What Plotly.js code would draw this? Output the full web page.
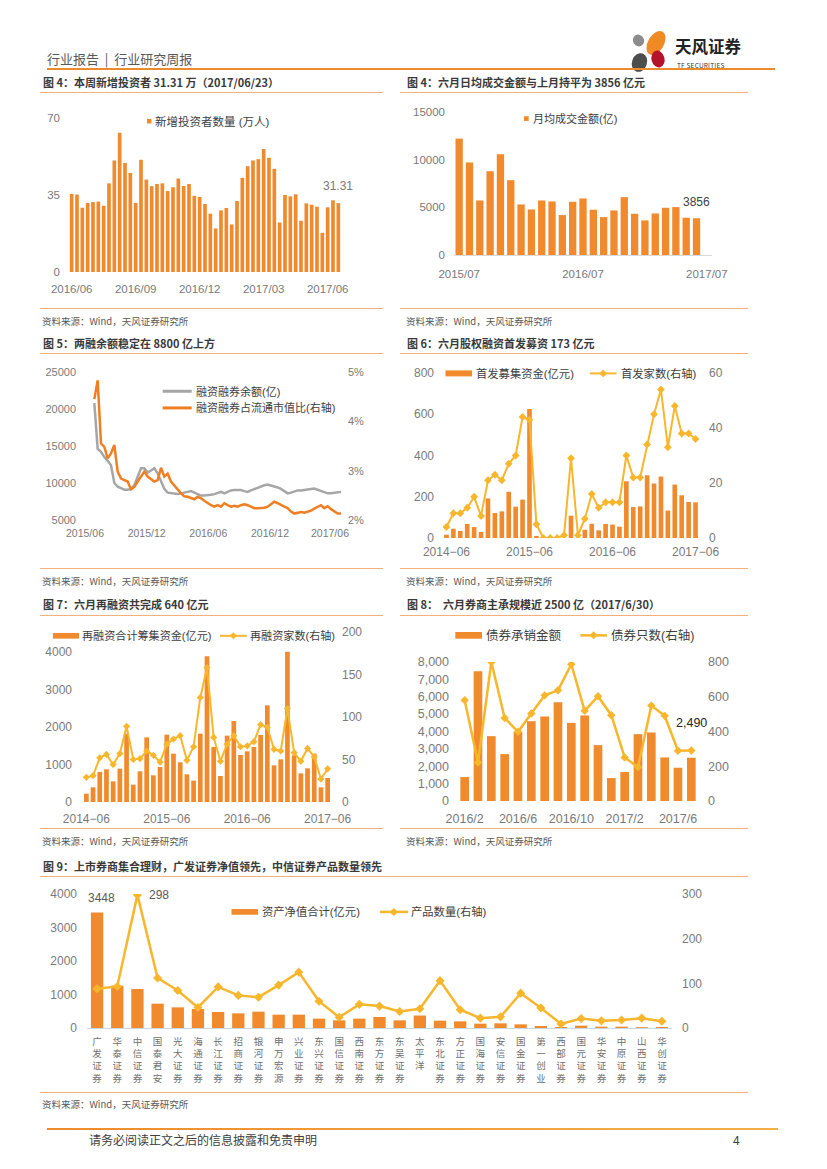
<!DOCTYPE html>
<html><head><meta charset="utf-8">
<script src="https://cdn.plot.ly/plotly-3.0.1.min.js"></script>
<style>
html,body{margin:0;padding:0;background:#fff;}
#page{position:relative;width:827px;height:1169px;overflow:hidden;font-family:"Noto Sans CJK SC","Liberation Sans",sans-serif;background:#fff;}
.t{position:absolute;white-space:nowrap;line-height:1;}
.ttl{font-size:11px;font-weight:bold;color:#3a3a3a;}
.src{font-size:9.5px;color:#595959;}
.hl{position:absolute;height:1px;background:#F3B07C;}
.ch{position:absolute;}
</style></head><body><div id="page">
<div class="t" style="left:47px;top:52px;font-size:13px;color:#595959;">行业报告&nbsp;&nbsp;|&nbsp;&nbsp;行业研究周报</div>
<svg style="position:absolute;left:625px;top:26px;" width="50" height="50" viewBox="625 26 50 50">
<ellipse cx="638.5" cy="40.5" rx="5.5" ry="6" fill="#8c8c8c" transform="rotate(-30 638.5 40.5)"/>
<ellipse cx="656" cy="43" rx="8" ry="13" fill="#F08A24" transform="rotate(30 656 43)"/>
<ellipse cx="639.5" cy="62.5" rx="7.5" ry="9.5" fill="#4d4d4d" transform="rotate(20 639.5 62.5)"/>
<ellipse cx="658" cy="59" rx="6.5" ry="8.5" fill="#B5122B" transform="rotate(-15 658 59)"/>
</svg>
<div class="t" style="left:675px;top:38px;font-size:16.5px;font-weight:bold;color:#222;">天风证券</div>
<div class="t" style="left:677px;top:61.5px;font-size:6.5px;color:#333;letter-spacing:0.2px;">TF SECURITIES</div>
<div style="position:absolute;left:47px;top:68px;width:728px;height:2px;background:#EC8A2E;"></div>

<div class="t ttl" style="left:43px;top:76.5px;">图 4：本周新增投资者 31.31 万（2017/06/23）</div>
<div class="t ttl" style="left:407px;top:76.5px;">图 4：六月日均成交金额与上月持平为 3856 亿元</div>
<div class="hl" style="left:40px;top:92px;width:343px;"></div>
<div class="hl" style="left:400px;top:92px;width:348px;"></div>
<div class="hl" style="left:40px;top:308px;width:343px;"></div>
<div class="hl" style="left:400px;top:308px;width:348px;"></div>
<div class="t src" style="left:42px;top:317px;">资料来源：Wind，天风证券研究所</div>
<div class="t src" style="left:406px;top:317px;">资料来源：Wind，天风证券研究所</div>

<div class="t ttl" style="left:43px;top:337.5px;">图 5：两融余额稳定在 8800 亿上方</div>
<div class="t ttl" style="left:407px;top:337.5px;">图 6：六月股权融资首发募资 173 亿元</div>
<div class="hl" style="left:40px;top:353px;width:343px;"></div>
<div class="hl" style="left:400px;top:353px;width:348px;"></div>
<div class="hl" style="left:40px;top:568px;width:343px;"></div>
<div class="hl" style="left:400px;top:568px;width:348px;"></div>
<div class="t src" style="left:42px;top:577px;">资料来源：Wind，天风证券研究所</div>
<div class="t src" style="left:406px;top:577px;">资料来源：Wind，天风证券研究所</div>

<div class="t ttl" style="left:43px;top:598.5px;">图 7：六月再融资共完成 640 亿元</div>
<div class="t ttl" style="left:407px;top:598.5px;">图 8：&nbsp;&nbsp;六月券商主承规模近 2500 亿（2017/6/30）</div>
<div class="hl" style="left:40px;top:615px;width:343px;"></div>
<div class="hl" style="left:400px;top:615px;width:348px;"></div>
<div class="hl" style="left:40px;top:828px;width:343px;"></div>
<div class="hl" style="left:400px;top:828px;width:348px;"></div>
<div class="t src" style="left:42px;top:837px;">资料来源：Wind，天风证券研究所</div>
<div class="t src" style="left:406px;top:837px;">资料来源：Wind，天风证券研究所</div>

<div class="t ttl" style="left:43px;top:861px;">图 9：上市券商集合理财，广发证券净值领先，中信证券产品数量领先</div>
<div class="hl" style="left:40px;top:876px;width:708px;"></div>
<div class="hl" style="left:40px;top:1092px;width:708px;"></div>
<div class="t src" style="left:42px;top:1100px;">资料来源：Wind，天风证券研究所</div>

<div style="position:absolute;left:47px;top:1127.5px;width:731px;height:2px;background:linear-gradient(90deg,#EE8B2A,#F3B04A);"></div>
<div class="t" style="left:89px;top:1134px;font-size:12px;color:#404040;">请务必阅读正文之后的信息披露和免责申明</div>
<div class="t" style="left:733px;top:1134px;font-size:12px;color:#404040;">4</div>
</div>
<script>
// ---------------- DATA ----------------
// Fig 4a: weekly new investors (10k persons)
const newInvestors = [35.5,35.2,29.2,31.4,31.8,32.0,30.1,40.3,50.7,63.3,49.6,45.0,31.4,51.0,42.0,39.0,40.0,40.3,36.8,38.5,42.5,39.1,40.0,34.6,34.1,30.9,26.5,19.8,28.0,29.1,21.6,32.3,42.8,48.1,50.7,51.3,55.9,51.9,46.9,22.5,35.0,34.4,35.3,23.3,31.2,30.6,29.7,17.8,29.4,32.6,31.31];
const investorTickText = ['2016/06','2016/09','2016/12','2017/03','2017/06'];
const investorTickIdx = [0,12,24,36,48];

// Fig 4b: monthly average daily turnover (100m CNY)
const turnover = [12209,9697,5720,8790,10569,7848,5302,4779,5720,5616,4186,5581,5930,4744,3977,4674,6070,4325,3628,4360,4953,5023,3907,3856];
const turnoverTickText = ['2015/07','2016/07','2017/07'];

// Fig 5: margin balance (100m) and ratio to float cap (%)
const marginBalance = [20800,14600,14200,13500,13000,12400,10000,9500,9300,9100,9100,9200,9700,11000,12000,12000,11400,11700,12000,11300,10200,9200,8700,8600,8600,8500,8600,8700,8800,8900,8700,8500,8300,8300,8300,8400,8500,8700,8800,8600,8800,9000,9050,9100,9050,8900,8800,9000,9200,9300,9500,9700,9800,9700,9600,9400,9200,8900,8600,8700,8900,9000,9000,9100,9100,9200,9250,9100,8900,8700,8600,8600,8700,8700,8800];
const marginRatio = [4.45,4.83,3.55,3.48,3.25,3.35,3.52,2.98,2.84,2.81,2.78,2.62,2.67,2.78,2.88,2.98,2.88,2.82,2.78,2.81,3.06,2.88,2.94,2.78,2.69,2.62,2.54,2.48,2.47,2.44,2.42,2.47,2.44,2.39,2.34,2.30,2.27,2.30,2.27,2.34,2.30,2.27,2.29,2.27,2.30,2.32,2.30,2.27,2.24,2.24,2.24,2.25,2.27,2.32,2.37,2.34,2.30,2.27,2.24,2.17,2.13,2.15,2.16,2.15,2.17,2.19,2.23,2.27,2.30,2.24,2.28,2.22,2.17,2.13,2.13];
const marginTickText = ['2015/06','2015/12','2016/06','2016/12','2017/06'];
const marginTickIdx = [-2.8,15.7,34.2,52.7,70.7];

// Fig 6: IPO funds (100m) and IPO count
const ipoFunds = [16,45,34,68,53,29,192,121,129,224,152,186,625,10,0,0,0,0,108,2,40,69,37,68,65,55,275,150,153,304,264,298,133,259,207,175,173];
const ipoCount = [4,9,9,11,15,8,21,23,21,27,30,44,43,5,0,0,0,1,29,1,7,16,11,13,13,13,30,22,22,34,45,54,33,48,38,38,36];
const ipoTickText = ['2014-06','2015-06','2016-06','2017-06'];

// Fig 7: refinancing funds (100m) and count
const refiFunds = [222,391,800,871,551,889,1822,462,818,1724,711,933,1796,1289,1058,738,569,1822,3884,1467,693,1769,2160,1253,1351,1467,1787,2578,978,1138,4009,1244,764,898,1289,391,640];
const refiCount = [29,31,52,56,44,57,89,50,51,60,55,47,68,74,78,49,65,123,158,76,48,68,78,65,66,71,91,88,62,60,110,58,48,63,53,27,39];
const refiTickText = ['2014-06','2015-06','2016-06','2017-06'];

// Fig 8: bond underwriting amount (100m) and bond count
const bondAmount = [1378,7464,3732,2699,3981,4593,4862,5684,4498,4919,3215,1321,1665,3847,3943,2507,1914,2490];
const bondCount = [580,222,800,478,398,503,608,637,787,519,603,494,251,195,549,490,289,291];
const bondTickText = ['2016/2','2016/6','2016/10','2017/2','2017/6'];

// Fig 9: collective asset management of listed brokers
const brokers = ['广发证券','华泰证券','中信证券','国泰君安','光大证券','海通证券','长江证券','招商证券','银河证券','申万宏源','兴业证券','东兴证券','国信证券','西南证券','东方证券','东吴证券','太平洋','东北证券','方正证券','国海证券','安信证券','国金证券','第一创业','西部证券','国元证券','华安证券','中原证券','山西证券','华创证券'];
const brokerNav = [3448,1264,1164,726,617,567,478,438,488,398,398,279,229,279,328,229,373,219,199,129,139,109,60,30,70,40,40,25,30];
const brokerProducts = [88,93,298,112,84,46,92,73,69,96,125,60,24,53,49,37,43,106,41,22,25,78,45,9,21,16,18,22,15];

// ---------------- HELPERS ----------------
const FONT = '"Liberation Sans", Arial, "Noto Sans CJK SC", sans-serif';
const BAR = '#F08A2C', LINEY = '#F8B62D', GRAY = '#A6A6A6', ORANGE = '#F07F23';
const TICKC = '#7A7A7A', TXT = '#404040';
const page = document.getElementById('page');
const idx = n => Array.from({length: n}, (_, i) => i);
function monthRange(y, m, n, sep, pad) {
  const out = [];
  for (let k = 0; k < n; k++) {
    const mm = ((m - 1 + k) % 12) + 1, yy = y + Math.floor((m - 1 + k) / 12);
    out.push(yy + sep + (pad && mm < 10 ? '0' + mm : String(mm)));
  }
  return out;
}

function makeChart(id, box, plot, traces, o) {
  const el = document.createElement('div');
  el.id = id; el.className = 'ch';
  el.style.left = box[0] + 'px'; el.style.top = box[1] + 'px';
  el.style.width = box[2] + 'px'; el.style.height = box[3] + 'px';
  page.appendChild(el);
  const W = plot[2] - plot[0], H = plot[3] - plot[1];
  const px = X => (X - plot[0]) / W, py = Y => (plot[3] - Y) / H;
  const shapes = [], annotations = (o.annotations || []).slice();
  (o.legend || []).forEach(it => {
    if (it.kind === 'bar') {
      shapes.push({type: 'rect', xref: 'paper', yref: 'paper', x0: px(it.x1), x1: px(it.x2),
        y0: py(it.y + it.h / 2), y1: py(it.y - it.h / 2), fillcolor: it.color, line: {width: 0}, layer: 'above'});
    } else {
      shapes.push({type: 'line', xref: 'paper', yref: 'paper', x0: px(it.x1), x1: px(it.x2),
        y0: py(it.y), y1: py(it.y), line: {color: it.color, width: it.lw || 2.5}, layer: 'above'});
      if (it.dx) {
        const s = it.ds || 3.5, c = it.dx, y = it.y;
        shapes.push({type: 'path', xref: 'paper', yref: 'paper', fillcolor: it.color, line: {width: 0}, layer: 'above',
          path: `M${px(c)},${py(y - s)} L${px(c + s)},${py(y)} L${px(c)},${py(y + s)} L${px(c - s)},${py(y)} Z`});
      }
    }
    annotations.push({xref: 'paper', yref: 'paper', x: px(it.tx), y: py(it.y), xanchor: 'left', yanchor: 'middle',
      text: it.text, showarrow: false, borderpad: 0, font: {size: it.fs, color: TXT, family: FONT}});
  });
  const ax = (extra) => Object.assign({showgrid: false, zeroline: false, showline: false, ticks: '', fixedrange: true}, extra);
  const layout = {
    width: box[2], height: box[3],
    margin: {l: plot[0] - box[0], t: plot[1] - box[1], r: box[0] + box[2] - plot[2], b: box[1] + box[3] - plot[3], pad: 0},
    paper_bgcolor: 'rgba(0,0,0,0)', plot_bgcolor: 'rgba(0,0,0,0)',
    showlegend: false, bargap: o.bargap,
    font: {family: FONT, color: TICKC, size: 11},
    xaxis: ax(o.xaxis), yaxis: ax(Object.assign({tickformat: 'd'}, o.yaxis)),
    shapes: shapes, annotations: annotations
  };
  if (o.yaxis2) layout.yaxis2 = ax(Object.assign({overlaying: 'y', side: 'right'}, o.yaxis2));
  Plotly.newPlot(el, traces, layout, {staticPlot: true, displayModeBar: false});
}

// ---------------- CHART A ----------------
makeChart('cA', [40, 100, 345, 205], [69.3, 118.3, 341.3, 271.7],
  [{type: 'bar', x: idx(newInvestors.length), y: newInvestors, marker: {color: BAR}}],
  {bargap: 0.31,
   xaxis: {range: [-0.5, 50.5], tickmode: 'array', tickvals: investorTickIdx, ticktext: investorTickText, tickfont: {size: 11.5}, ticklabelstandoff: 8},
   yaxis: {range: [0, 70], tickvals: [0, 35, 70], tickfont: {size: 11.5}, ticklabelstandoff: 8},
   legend: [{kind: 'bar', x1: 147.3, x2: 151.7, y: 121.5, h: 4.5, color: BAR, tx: 154.5, text: '新增投资者数量 (万人)', fs: 11.5}],
   annotations: [{x: newInvestors.length - 1, y: newInvestors[newInvestors.length - 1], text: '31.31', showarrow: false, yanchor: 'bottom', yshift: 8, font: {size: 12, color: '#7A7A7A'}}]
  });

// ---------------- CHART B ----------------
const monthsB = monthRange(2015, 7, 25, '/', true);
makeChart('cB', [400, 100, 360, 200], [454.2, 111.7, 711.7, 255],
  [{type: 'bar', x: monthsB.slice(0, turnover.length), y: turnover, marker: {color: BAR}}],
  {bargap: 0.29,
   xaxis: {type: 'category', categoryorder: 'array', categoryarray: monthsB, range: [-0.5, 24.5], tickmode: 'array', tickvals: turnoverTickText, ticktext: turnoverTickText, tickfont: {size: 11.5}, ticklabelstandoff: 8, showline: true, linecolor: '#D9D9D9', linewidth: 1},
   yaxis: {range: [0, 15000], tickvals: [0, 5000, 10000, 15000], tickformat: 'd', tickfont: {size: 11.5}, ticklabelstandoff: 8},
   legend: [{kind: 'bar', x1: 524, x2: 528.7, y: 118.3, h: 4.7, color: BAR, tx: 532.5, text: '月均成交金额(亿)', fs: 11}],
   annotations: [{x: monthsB[turnover.length - 1], y: turnover[turnover.length - 1], text: '3856', showarrow: false, yanchor: 'bottom', yshift: 7, font: {size: 12, color: TXT}}]
  });

// ---------------- CHART C ----------------
makeChart('cC', [40, 360, 345, 190], [85, 371.7, 343, 520],
  [{type: 'scatter', mode: 'lines', x: idx(marginBalance.length), y: marginBalance, line: {color: GRAY, width: 2.5}},
   {type: 'scatter', mode: 'lines', x: idx(marginRatio.length), y: marginRatio, yaxis: 'y2', line: {color: ORANGE, width: 2.5}}],
  {xaxis: {range: [-2.8, 74.6], tickmode: 'array', tickvals: marginTickIdx, ticktext: marginTickText, tickfont: {size: 10.5}, ticklabelstandoff: 5},
   yaxis: {range: [5000, 25000], tickvals: [5000, 10000, 15000, 20000, 25000], tickformat: 'd', tickfont: {size: 11}, ticklabelstandoff: 8},
   yaxis2: {range: [2, 5], tickvals: [2, 3, 4, 5], ticktext: ['2%', '3%', '4%', '5%'], tickfont: {size: 11}, ticklabelstandoff: 4},
   legend: [{kind: 'line', x1: 162.7, x2: 191.7, y: 391, color: GRAY, lw: 3, tx: 194.5, text: '融资融券余额(亿)', fs: 11},
            {kind: 'line', x1: 162.7, x2: 191.7, y: 407.7, color: ORANGE, lw: 3, tx: 194.5, text: '融资融券占流通市值比(右轴)', fs: 11}]
  });

// ---------------- CHART D ----------------
const monthsD = monthRange(2014, 6, ipoFunds.length, '-', true);
makeChart('cD', [400, 362, 360, 200], [442.5, 373.3, 699.5, 538.3],
  [{type: 'bar', x: monthsD, y: ipoFunds, marker: {color: BAR}},
   {type: 'scatter', mode: 'lines+markers', x: monthsD, y: ipoCount, yaxis: 'y2', line: {color: LINEY, width: 2}, marker: {symbol: 'diamond', size: 6, color: LINEY}}],
  {bargap: 0.33,
   xaxis: {type: 'category', range: [-0.5, 36.5], tickmode: 'array', tickvals: ipoTickText, ticktext: ipoTickText.map(s => s.replace('-', '−')), tickfont: {size: 12}, ticklabelstandoff: 5},
   yaxis: {range: [0, 800], tickvals: [0, 200, 400, 600, 800], tickfont: {size: 12}, ticklabelstandoff: 8},
   yaxis2: {range: [0, 60], tickvals: [0, 20, 40, 60], tickfont: {size: 12}, ticklabelstandoff: 9},
   legend: [{kind: 'bar', x1: 445, x2: 471.7, y: 373.7, h: 6, color: BAR, tx: 475, text: '首发募集资金(亿元)', fs: 11.3},
            {kind: 'line', x1: 590, x2: 616.7, y: 373.7, color: LINEY, lw: 2, dx: 603.3, ds: 3.8, tx: 620, text: '首发家数(右轴)', fs: 11.3}]
  });

// ---------------- CHART E ----------------
const monthsE = monthRange(2014, 6, refiFunds.length, '-', true);
makeChart('cE', [40, 622, 345, 205], [83.3, 631.7, 330.7, 801.7],
  [{type: 'bar', x: monthsE, y: refiFunds, marker: {color: BAR}},
   {type: 'scatter', mode: 'lines+markers', x: monthsE, y: refiCount, yaxis: 'y2', line: {color: LINEY, width: 2}, marker: {symbol: 'diamond', size: 5.5, color: LINEY}}],
  {bargap: 0.3,
   xaxis: {type: 'category', range: [-0.5, 36.5], tickmode: 'array', tickvals: refiTickText, ticktext: refiTickText.map(s => s.replace('-', '−')), tickfont: {size: 12}, ticklabelstandoff: 8},
   yaxis: {range: [0, 4533], tickvals: [0, 1000, 2000, 3000, 4000], tickfont: {size: 12}, ticklabelstandoff: 10},
   yaxis2: {range: [0, 200], tickvals: [0, 50, 100, 150, 200], tickfont: {size: 12}, ticklabelstandoff: 10},
   legend: [{kind: 'bar', x1: 53.3, x2: 79.3, y: 635.5, h: 5.7, color: BAR, tx: 81.7, text: '再融资合计筹集资金(亿元)', fs: 11.1},
            {kind: 'line', x1: 220, x2: 246.7, y: 635.5, color: LINEY, lw: 2, dx: 233.3, ds: 3.5, tx: 249.3, text: '再融资家数(右轴)', fs: 11.1}]
  });

// ---------------- CHART F ----------------
const monthsF = monthRange(2016, 2, bondAmount.length, '/', false);
makeChart('cF', [400, 622, 360, 205], [457.7, 661.7, 697.7, 801],
  [{type: 'bar', x: monthsF, y: bondAmount, marker: {color: BAR}},
   {type: 'scatter', mode: 'lines+markers', x: monthsF, y: bondCount, yaxis: 'y2', line: {color: LINEY, width: 2.5}, marker: {symbol: 'diamond', size: 6.5, color: LINEY}}],
  {bargap: 0.35,
   xaxis: {type: 'category', range: [-0.5, 17.5], tickmode: 'array', tickvals: bondTickText, ticktext: bondTickText, tickfont: {size: 12.5}, ticklabelstandoff: 8},
   yaxis: {range: [0, 8000], tickvals: [0, 1000, 2000, 3000, 4000, 5000, 6000, 7000, 8000], tickformat: ',d', tickfont: {size: 12.5}, ticklabelstandoff: 8},
   yaxis2: {range: [0, 800], tickvals: [0, 200, 400, 600, 800], tickfont: {size: 12.5}, ticklabelstandoff: 9},
   legend: [{kind: 'bar', x1: 455, x2: 481.7, y: 635, h: 6.7, color: BAR, tx: 485, text: '债券承销金额', fs: 12.5},
            {kind: 'line', x1: 580, x2: 606.7, y: 635, color: LINEY, lw: 2.5, dx: 593.3, ds: 4, tx: 609.3, text: '债券只数(右轴)', fs: 12.5}],
   annotations: [{x: monthsF[bondAmount.length - 1], y: bondAmount[bondAmount.length - 1], text: '2,490', showarrow: false, yanchor: 'middle', yshift: 34.6, font: {size: 12.5, color: '#262626'}}]
  });

// ---------------- CHART G ----------------
makeChart('cG', [40, 880, 740, 205], [87.2, 894.3, 672.1, 1028.3],
  [{type: 'bar', x: brokers, y: brokerNav, marker: {color: BAR}},
   {type: 'scatter', mode: 'lines+markers', x: brokers, y: brokerProducts, yaxis: 'y2', line: {color: LINEY, width: 2.5}, marker: {symbol: 'diamond', size: 7, color: LINEY}}],
  {bargap: 0.39,
   xaxis: {type: 'category', range: [-0.5, brokers.length - 0.5], tickmode: 'array', tickvals: brokers, ticktext: brokers.map(s => s.split('').join('<br>')), tickfont: {size: 9.5, color: '#6f6f6f'}, ticklabelstandoff: 4, showline: true, linecolor: '#C5D9ED', linewidth: 1.2},
   yaxis: {range: [0, 4000], tickvals: [0, 1000, 2000, 3000, 4000], tickfont: {size: 12}, ticklabelstandoff: 9},
   yaxis2: {range: [0, 300], tickvals: [0, 100, 200, 300], tickfont: {size: 12}, ticklabelstandoff: 9},
   legend: [{kind: 'bar', x1: 231.7, x2: 258.3, y: 912.2, h: 5.7, color: BAR, tx: 261, text: '资产净值合计(亿元)', fs: 11.3},
            {kind: 'line', x1: 380, x2: 408.3, y: 912.2, color: LINEY, lw: 2.5, dx: 394, ds: 4, tx: 410.5, text: '产品数量(右轴)', fs: 11.3}],
   annotations: [{x: brokers[0], y: brokerNav[0], text: '3448', showarrow: false, yanchor: 'middle', yshift: 14.5, xshift: 4.4, font: {size: 12, color: '#595959'}},
                 {x: brokers[2], y: brokerProducts[2], yref: 'y2', text: '298', showarrow: false, yanchor: 'middle', xshift: 21.4, font: {size: 12, color: '#595959'}}]
  });
</script>
</body></html>
